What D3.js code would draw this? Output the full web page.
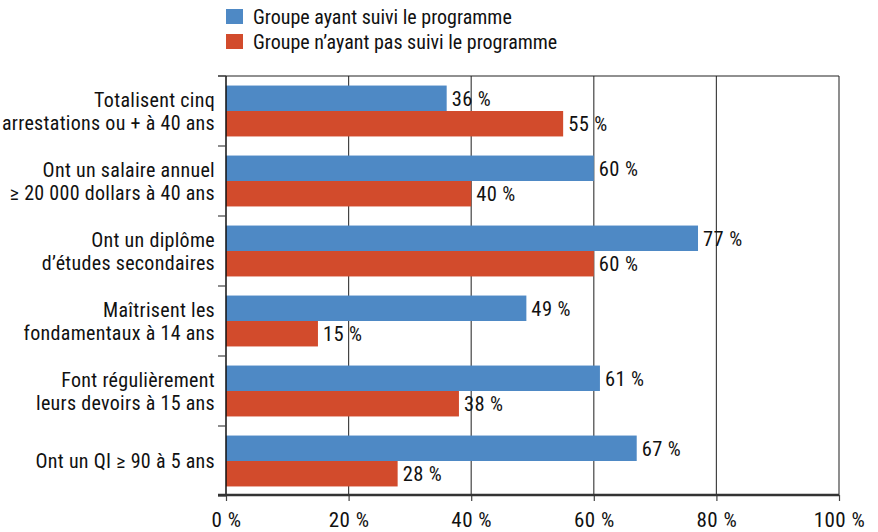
<!DOCTYPE html>
<html><head><meta charset="utf-8">
<script src="https://cdn.jsdelivr.net/npm/d3@7"></script>
<style>
body{margin:0;background:#fff;}
svg text{font-family:"Liberation Sans Narrow","Arial Narrow","Roboto Condensed",sans-serif;fill:#111;}
</style></head>
<body><svg id="c" width="878" height="532"></svg>
<script>
const categories = [
  ["Totalisent cinq","arrestations ou + à 40 ans"],
  ["Ont un salaire annuel","≥ 20 000 dollars à 40 ans"],
  ["Ont un diplôme","d’études secondaires"],
  ["Maîtrisent les","fondamentaux à 14 ans"],
  ["Font régulièrement","leurs devoirs à 15 ans"],
  ["Ont un QI ≥ 90 à 5 ans"]
];
const seriesNames = ["Groupe ayant suivi le programme","Groupe n’ayant pas suivi le programme"];
const followed = [36, 60, 77, 49, 61, 67];
const notFollowed = [55, 40, 60, 15, 38, 28];
const xTicks = [0, 20, 40, 60, 80, 100];
const colors = ["#4e89c5", "#d24b2c"];

const svg = d3.select("#c");
const m = {left:226, right:839, top:76, bottom:496};
const x = d3.scaleLinear().domain([0,100]).range([m.left, m.right]);
const y = d3.scaleBand().domain(d3.range(categories.length)).range([m.top, m.bottom]).paddingInner(0).paddingOuter(0);
const sub = d3.scaleBand().domain([0,1]).range([0, y.bandwidth()]).paddingInner(0).paddingOuter(0.375);

// gridlines
svg.append("g").selectAll("line").data(xTicks.slice(1)).join("line")
  .attr("x1", d=>x(d)).attr("x2", d=>x(d)).attr("y1", m.top).attr("y2", m.bottom)
  .attr("stroke", "#444").attr("stroke-width", 1.2);
// top border
svg.append("line").attr("x1", m.left-8).attr("x2", m.right).attr("y1", m.top).attr("y2", m.top)
  .attr("stroke", "#222").attr("stroke-width", 1.2);

// bars
const data = categories.map((c,i)=>({i, vals:[followed[i], notFollowed[i]]}));
const g = svg.append("g").selectAll("g").data(data).join("g")
  .attr("transform", d=>`translate(0,${y(d.i)})`);
g.selectAll("rect").data(d=>d.vals.map((v,k)=>({v,k}))).join("rect")
  .attr("x", x(0)).attr("y", d=>sub(d.k)).attr("width", d=>x(d.v)-x(0)).attr("height", sub.bandwidth())
  .attr("fill", d=>colors[d.k]);
g.selectAll("text.val").data(d=>d.vals.map((v,k)=>({v,k}))).join("text").attr("class","val")
  .attr("x", d=>x(d.v)+5).attr("y", d=>sub(d.k)+sub.bandwidth()/2).attr("dy","0.36em")
  .attr("font-size", 20.5).attr("letter-spacing", 0.4).text(d=>d.v+" %");

// left axis
const leftG = svg.append("g");
leftG.append("line").attr("x1", m.left).attr("x2", m.left).attr("y1", m.top).attr("y2", m.bottom)
  .attr("stroke", "#111").attr("stroke-width", 1.5);
leftG.selectAll("line.t").data(d3.range(categories.length+1)).join("line").attr("class","t")
  .attr("x1", m.left-8).attr("x2", m.left)
  .attr("y1", i=>m.top + i*y.step()).attr("y2", i=>m.top + i*y.step())
  .attr("stroke", "#444").attr("stroke-width", 1.2);

// category labels
leftG.selectAll("text.cat").data(categories).join("text").attr("class","cat")
  .attr("text-anchor","end").attr("font-size", 20).attr("letter-spacing", 0.3)
  .attr("transform", (d,i)=>`translate(${m.left-11},${y(i)+y.bandwidth()/2})`)
  .each(function(lines){
    const t = d3.select(this);
    const lh = 23;
    lines.forEach((l,j)=>{
      t.append("tspan").attr("x",0).attr("y", (j-(lines.length-1)/2)*lh).attr("dy","0.36em").text(l);
    });
  });

// bottom axis
const xAxis = d3.axisBottom(x).tickValues(xTicks).tickFormat(d=>d+" %").tickSize(6).tickSizeOuter(0);
const xg = svg.append("g").attr("transform", `translate(0,${m.bottom-1})`).call(xAxis);
xg.select(".domain").remove();
xg.append("line").attr("x1", m.left-8).attr("x2", m.right).attr("y1",0).attr("y2",0)
  .attr("stroke","#333").attr("stroke-width",2.5);
xg.selectAll(".tick line").attr("stroke","#444").attr("stroke-width",1.2);
xg.selectAll(".tick text").attr("font-size", 21).attr("letter-spacing", 0.5).attr("fill","#111").attr("dy","1.1em")
  .attr("font-family",'"Liberation Sans Narrow","Arial Narrow","Roboto Condensed",sans-serif');

// legend
const leg = svg.append("g");
seriesNames.forEach((n,k)=>{
  const ly = 17 + k*25;
  leg.append("rect").attr("x", 226).attr("y", ly-8).attr("width", 17).attr("height", 15).attr("fill", colors[k]);
  leg.append("text").attr("x", 253).attr("y", ly).attr("dy","0.36em").attr("font-size",20).text(n);
});
</script></body></html>
